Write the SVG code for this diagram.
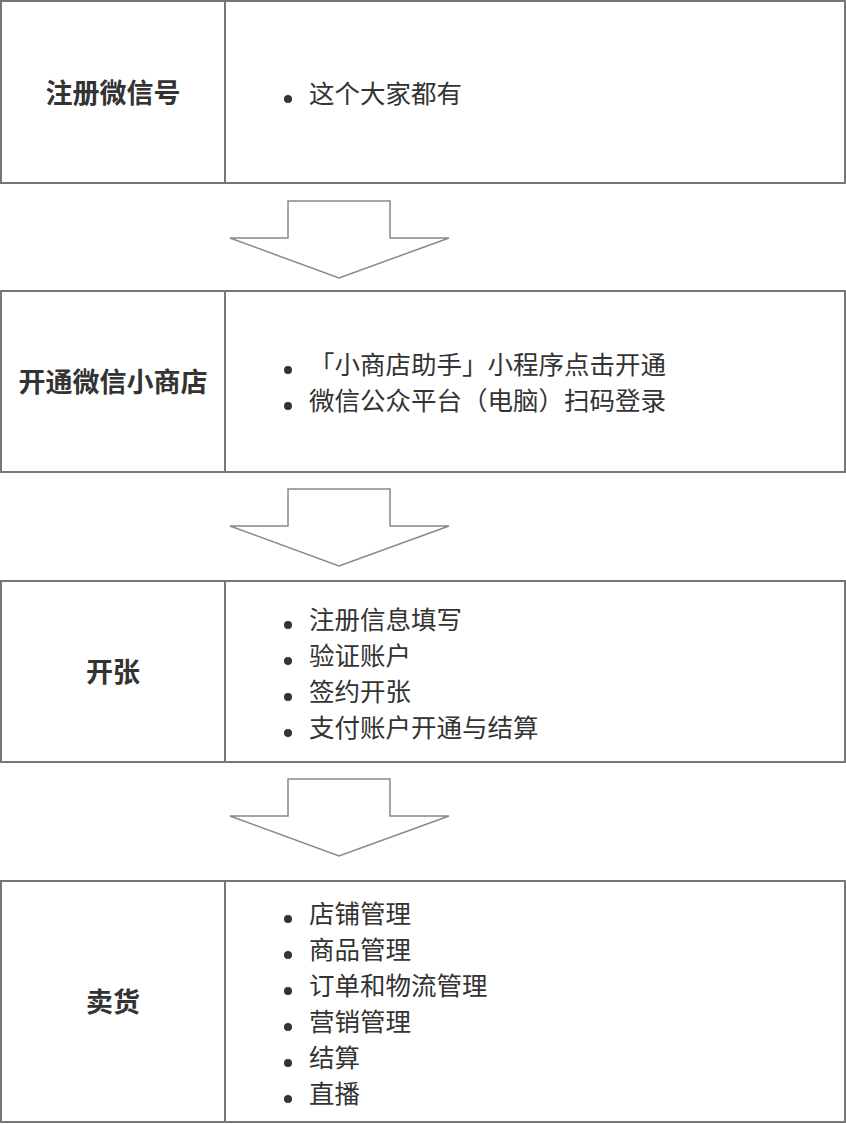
<svg xmlns="http://www.w3.org/2000/svg" width="846" height="1124" viewBox="0 0 846 1124">
<style>
.box{fill:#fff;stroke:#777;stroke-width:2}
.arr{fill:#fff;stroke:#888;stroke-width:1.5}
.t{font-family:"Noto Sans CJK SC",sans-serif;font-size:25.5px;fill:#333}
.h{font-family:"Noto Sans CJK SC",sans-serif;font-size:27px;font-weight:bold;fill:#333;text-anchor:middle}
.b{fill:#333}
</style>
<rect width="846" height="1124" fill="#fff"/>
<g id="n1"><rect class="box" x="1" y="1" width="844" height="182"/><line class="box" x1="225" y1="1" x2="225" y2="183"/>
<text class="h" x="113" y="103">注册微信号</text>
<circle class="b" cx="288" cy="99" r="4"/><text class="t" x="309" y="103">这个大家都有</text></g>
<g id="n2"><rect class="box" x="1" y="291" width="844" height="181"/><line class="box" x1="225" y1="291" x2="225" y2="472"/>
<text class="h" x="113" y="392">开通微信小商店</text>
<circle class="b" cx="288" cy="370" r="4"/><text class="t" x="309" y="374">「小商店助手」小程序点击开通</text>
<circle class="b" cx="288" cy="406" r="4"/><text class="t" x="309" y="410">微信公众平台（电脑）扫码登录</text></g>
<g id="n3"><rect class="box" x="1" y="581" width="844" height="181"/><line class="box" x1="225" y1="581" x2="225" y2="762"/>
<text class="h" x="113" y="682">开张</text>
<circle class="b" cx="288" cy="625" r="4"/><text class="t" x="309" y="629">注册信息填写</text>
<circle class="b" cx="288" cy="661" r="4"/><text class="t" x="309" y="665">验证账户</text>
<circle class="b" cx="288" cy="697" r="4"/><text class="t" x="309" y="701">签约开张</text>
<circle class="b" cx="288" cy="733" r="4"/><text class="t" x="309" y="737">支付账户开通与结算</text></g>
<g id="n4"><rect class="box" x="1" y="881" width="844" height="241"/><line class="box" x1="225" y1="881" x2="225" y2="1122"/>
<text class="h" x="113" y="1012">卖货</text>
<circle class="b" cx="288" cy="919" r="4"/><text class="t" x="309" y="923">店铺管理</text>
<circle class="b" cx="288" cy="955" r="4"/><text class="t" x="309" y="959">商品管理</text>
<circle class="b" cx="288" cy="991" r="4"/><text class="t" x="309" y="995">订单和物流管理</text>
<circle class="b" cx="288" cy="1027" r="4"/><text class="t" x="309" y="1031">营销管理</text>
<circle class="b" cx="288" cy="1063" r="4"/><text class="t" x="309" y="1067">结算</text>
<circle class="b" cx="288" cy="1099" r="4"/><text class="t" x="309" y="1103">直播</text></g>
<g id="connectors">
<polygon class="arr" points="288,201 390,201 390,238 449,238 339,278 230,238 288,238"/>
<polygon class="arr" points="288,489 390,489 390,526 449,526 339,566 230,526 288,526"/>
<polygon class="arr" points="288,779 390,779 390,816 449,816 339,856 230,816 288,816"/>
</g>
</svg>
